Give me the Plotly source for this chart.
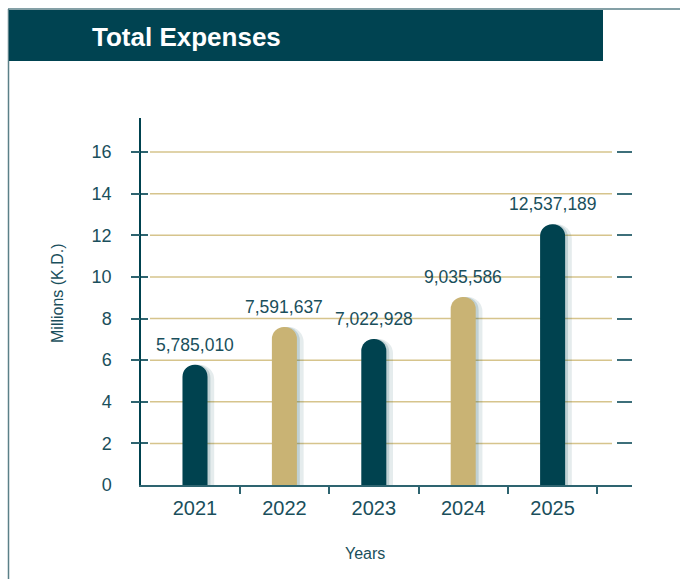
import plotly.graph_objects as go

# ---- data ----
years = ["2021", "2022", "2023", "2024", "2025"]
expenses = [5785010, 7591637, 7022928, 9035586, 12537189]
bar_colors = ["#00424f", "#c9b374", "#00424f", "#c9b374", "#00424f"]
y_ticks = [0, 2, 4, 6, 8, 10, 12, 14, 16]

values_m = [v / 1e6 for v in expenses]
idx = list(range(len(years)))

# ---- layout geometry (pixels) ----
W, H = 680, 579
L, R, T, B = 141, 48, 118, 94
PW, PH = W - L - R, H - T - B


def px(x):
    return (x - L) / PW


def py(y):
    return (H - B - y) / PH


TEAL = "#00424f"
TXT = "#1a4f5c"
TICKC = "#2e6470"
XR = [-0.604, 4.888]
YR = [0, 17.64]
BW = 0.28  # bar width in category units
SH = 0.035  # shadow shift

fig = go.Figure()

# shadows
fig.add_trace(go.Bar(
    x=idx, y=values_m, xaxis="x", yaxis="y",
    width=[BW + 0.05] * len(idx), offset=[-BW / 2 + SH - 0.01] * len(idx),
    marker=dict(color="rgba(0,66,79,0.10)", cornerradius="50%", line=dict(width=0)),
    hoverinfo="skip", showlegend=False,
))
fig.add_trace(go.Bar(
    x=idx, y=values_m, xaxis="x", yaxis="y",
    width=[BW + 0.015] * len(idx), offset=[-BW / 2 + SH / 2] * len(idx),
    marker=dict(color="rgba(0,66,79,0.16)", cornerradius="50%", line=dict(width=0)),
    hoverinfo="skip", showlegend=False,
))
# main bars
fig.add_trace(go.Bar(
    x=idx, y=values_m, xaxis="x2", yaxis="y",
    width=[BW] * len(idx),
    marker=dict(color=bar_colors, cornerradius="50%", line=dict(width=0)),
    hoverinfo="skip", showlegend=False,
))
# invisible helpers for the extra tick axes
for ya in ["y2", "y3", "y4"]:
    fig.add_trace(go.Scatter(
        x=idx, y=values_m, xaxis="x", yaxis=ya, mode="markers",
        marker=dict(opacity=0), hoverinfo="skip", showlegend=False,
    ))

# gridlines (shapes so they stop short of the axes)
for t in y_ticks[1:]:
    fig.add_shape(type="line", xref="paper", yref="y",
                  x0=px(150), x1=px(612), y0=t, y1=t,
                  line=dict(color="#d6c48c", width=1.5), layer="below")

# frame and header band
fig.add_shape(type="line", xref="paper", yref="paper",
              x0=px(8), x1=px(680), y0=py(9), y1=py(9),
              line=dict(color="#5b8088", width=1.5))
fig.add_shape(type="line", xref="paper", yref="paper",
              x0=px(8.5), x1=px(8.5), y0=py(9), y1=py(580),
              line=dict(color="#5b8088", width=1.5))
fig.add_shape(type="rect", xref="paper", yref="paper",
              x0=px(9), x1=px(603), y0=py(61), y1=py(10),
              fillcolor="#004351", line=dict(width=0))

# data labels
for i, v, vm in zip(idx, expenses, values_m):
    fig.add_annotation(x=i, y=vm, xref="x", yref="y", text=f"{v:,}",
                       showarrow=False, yanchor="bottom", yshift=8,
                       font=dict(family="Liberation Sans, Arial", size=17.5, color=TXT))

# title & axis titles
fig.add_annotation(x=px(90), y=py(37), xref="paper", yref="paper",
                   text="<b>Total Expenses</b>", showarrow=False,
                   xanchor="left", yanchor="middle",
                   font=dict(family="Liberation Sans, Arial", size=26, color="white"))
fig.add_annotation(x=px(364.5), y=py(553), xref="paper", yref="paper",
                   text="Years", showarrow=False, xanchor="center", yanchor="middle",
                   font=dict(family="Liberation Sans, Arial", size=16, color=TXT))
fig.add_annotation(x=px(57), y=py(293), xref="paper", yref="paper",
                   text="Millions (K.D.)", showarrow=False, textangle=-90,
                   xanchor="center", yanchor="middle",
                   font=dict(family="Liberation Sans, Arial", size=16, color=TXT))

fig.update_layout(
    width=W, height=H,
    margin=dict(l=L, r=R, t=T, b=B, pad=0),
    paper_bgcolor="white", plot_bgcolor="white",
    barmode="overlay", showlegend=False,
    xaxis=dict(range=XR, tickvals=idx, ticktext=years, ticks="",
               showgrid=False, zeroline=False,
               showline=True, linecolor=TICKC, linewidth=1.5,
               tickfont=dict(family="Liberation Sans, Arial", size=20, color=TXT),
               ticklabelstandoff=4, fixedrange=True),
    xaxis2=dict(range=XR, overlaying="x", anchor="y", side="bottom",
                tickvals=[i + 0.5 for i in idx], ticks="outside", ticklen=8,
                tickwidth=1.5, tickcolor=TICKC, showticklabels=False,
                showgrid=False, zeroline=False, showline=False),
    yaxis=dict(range=YR, tickvals=y_ticks, ticks="",
               showgrid=False, zeroline=False,
               showline=True, linecolor=TEAL, linewidth=1.5,
               tickfont=dict(family="Liberation Sans, Arial", size=18, color=TXT),
               ticklabelstandoff=24),
    yaxis2=dict(range=YR, overlaying="y", anchor="x", side="left",
                tickvals=y_ticks[1:], ticks="inside", ticklen=7, tickwidth=1.5,
                tickcolor=TICKC, showticklabels=False,
                showgrid=False, zeroline=False, showline=False),
    yaxis4=dict(range=YR, overlaying="y", anchor="x", side="left",
                tickvals=y_ticks[1:], ticks="outside", ticklen=9, tickwidth=1.5,
                tickcolor=TICKC, showticklabels=False,
                showgrid=False, zeroline=False, showline=False),
    yaxis3=dict(range=YR, overlaying="y", anchor="x", side="right",
                tickvals=y_ticks[1:], ticks="inside", ticklen=15, tickwidth=1.5,
                tickcolor="#3d6f7a", showticklabels=False,
                showgrid=False, zeroline=False, showline=False),
)

fig.write_html("out.html")
